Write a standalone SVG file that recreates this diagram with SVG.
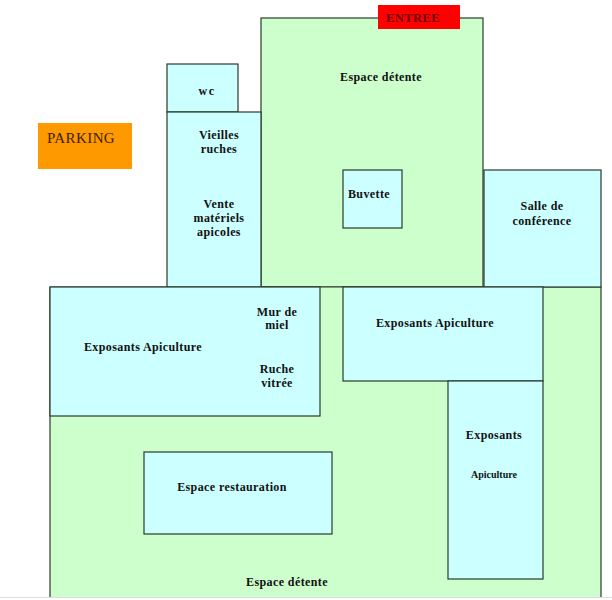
<svg xmlns="http://www.w3.org/2000/svg" width="612" height="600" viewBox="0 0 612 600">
<style>
.g{fill:#CCFFCC;stroke:#2a3a2a;stroke-width:1.2}
.b{fill:#CCFFFF;stroke:#2a3a2a;stroke-width:1.2}
.t{font-family:"Liberation Serif","Times New Roman",serif;font-weight:bold;font-size:12px;fill:#111;text-anchor:middle;letter-spacing:0.4px}
</style>
<rect width="612" height="600" fill="#fff"/>
<g id="espace-detente-haut"><rect class="g" x="261" y="18" width="222" height="269"/><text class="t" x="381" y="81">Espace détente</text></g>
<g id="espace-detente-bas"><path d="M50 287H601V597H50Z" fill="#CCFFCC"/><path d="M50 597V287H601V597" fill="none" stroke="#2a3a2a" stroke-width="1.2"/><line x1="0" y1="597.5" x2="612" y2="597.5" stroke="#ddd" stroke-width="1"/><text class="t" x="287" y="586">Espace détente</text></g>
<g id="entree"><rect x="378" y="5" width="82" height="24" fill="#FF0000"/><text class="t" x="413" y="22" style="fill:#6a0000;font-size:12.5px">ENTREE</text></g>
<g id="parking"><rect x="38" y="123" width="94" height="46" fill="#FF9900"/><text x="47" y="143" font-family="Liberation Serif,serif" font-size="15" letter-spacing="0.4" fill="#3a2200">PARKING</text></g>
<g id="wc"><rect class="b" x="167" y="64" width="71" height="48"/><text class="t" x="207" y="95" style="letter-spacing:1.5px">wc</text></g>
<g id="vieilles-ruches"><rect class="b" x="167" y="112" width="94" height="175"/><text class="t" x="219" y="139">Vieilles</text><text class="t" x="219" y="153">ruches</text><text class="t" x="219" y="208">Vente</text><text class="t" x="219" y="222">matériels</text><text class="t" x="219" y="236">apicoles</text></g>
<g id="buvette"><rect class="b" x="343" y="170" width="59" height="58"/><text class="t" x="369" y="198">Buvette</text></g>
<g id="salle-conference"><rect class="b" x="484" y="170" width="117" height="117"/><text class="t" x="542" y="210">Salle de</text><text class="t" x="542" y="225">conférence</text></g>
<g id="exposants-gauche"><rect class="b" x="50" y="287" width="270" height="129"/><text class="t" x="143" y="351">Exposants Apiculture</text><text class="t" x="277" y="316">Mur de</text><text class="t" x="277" y="329">miel</text><text class="t" x="277" y="373">Ruche</text><text class="t" x="277" y="387">vitrée</text></g>
<g id="exposants-milieu"><rect class="b" x="343" y="287" width="200" height="94"/><text class="t" x="435" y="327">Exposants Apiculture</text></g>
<g id="exposants-droite"><rect class="b" x="448" y="381" width="95" height="198"/><text class="t" x="494" y="439">Exposants</text><text class="t" x="494" y="478" style="font-size:10px;letter-spacing:0px">Apiculture</text></g>
<g id="espace-restauration"><rect class="b" x="144" y="452" width="188" height="82"/><text class="t" x="232" y="491">Espace restauration</text></g>
<g id="connectors"/>
</svg>
